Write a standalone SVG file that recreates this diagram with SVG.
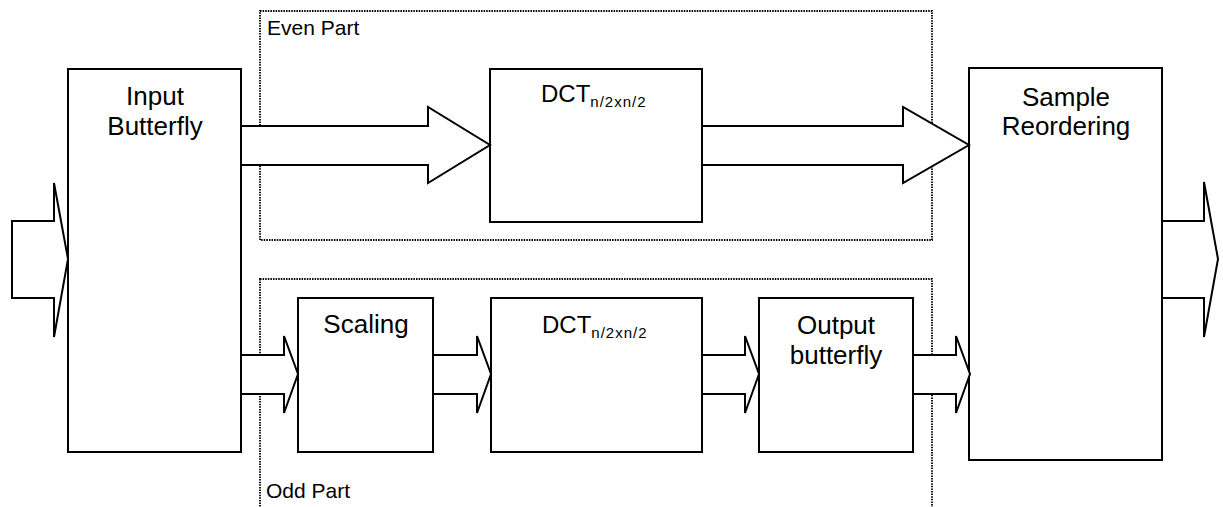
<svg xmlns="http://www.w3.org/2000/svg" width="1223" height="507" viewBox="0 0 1223 507">
  <style>
    .box { fill: #ffffff; stroke: #000000; stroke-width: 2; }
    .group { fill: none; stroke: #000000; stroke-width: 1.8; stroke-dasharray: 1.5 1.1; }
    .arrow { fill: #ffffff; stroke: #000000; stroke-width: 2; stroke-linejoin: miter; }
    .label { font-family: "Liberation Sans", Arial, sans-serif; font-size: 26px; fill: #000000; text-anchor: middle; }
    .part { font-family: "Liberation Sans", Arial, sans-serif; font-size: 21px; fill: #000000; }
    .dct { font-family: "Liberation Sans", Arial, sans-serif; font-size: 24px; fill: #000000; }
    .sub { font-size: 15px; letter-spacing: 1px; }
  </style>

  <rect width="1223" height="507" fill="#ffffff"/>

  <!-- dotted grouping frames -->
  <g id="even-part">
    <rect class="group" x="260" y="11" width="672" height="229"/>
    <text class="part" x="267" y="35">Even Part</text>
  </g>
  <g id="odd-part">
    <rect class="group" x="260" y="279" width="672" height="240"/>
    <text class="part" x="266" y="498">Odd Part</text>
  </g>

  <!-- processing blocks -->
  <g id="input-butterfly">
    <rect class="box" x="68" y="69" width="173" height="383"/>
    <text class="label" x="155" y="105">Input</text>
    <text class="label" x="155" y="135">Butterfly</text>
  </g>
  <g id="dct-even">
    <rect class="box" x="490" y="69" width="212" height="153"/>
    <text class="dct" x="541" y="102">DCT<tspan class="sub" dy="5">n/2xn/2</tspan></text>
  </g>
  <g id="scaling">
    <rect class="box" x="298" y="298" width="135" height="154"/>
    <text class="label" x="366" y="333">Scaling</text>
  </g>
  <g id="dct-odd">
    <rect class="box" x="491" y="298" width="211" height="154"/>
    <text class="dct" x="542" y="333">DCT<tspan class="sub" dy="5">n/2xn/2</tspan></text>
  </g>
  <g id="output-butterfly">
    <rect class="box" x="759" y="298" width="154" height="154"/>
    <text class="label" x="836" y="334">Output</text>
    <text class="label" x="836" y="364">butterfly</text>
  </g>
  <g id="sample-reordering">
    <rect class="box" x="969" y="68" width="193" height="392"/>
    <text class="label" x="1066" y="106">Sample</text>
    <text class="label" x="1066" y="135">Reordering</text>
  </g>

  <!-- block arrows between stages -->
  <g id="connectors">
    <polygon class="arrow" points="12,221 54,221 54,183 68,259 54,337 54,298 12,298"/>
    <polygon class="arrow" points="241,126 428,126 428,107 490,145 428,183 428,165 241,165"/>
    <polygon class="arrow" points="702,126 903,126 903,107 969,145 903,183 903,165 702,165"/>
    <polygon class="arrow" points="241,355 284,355 284,336 298,374 284,413 284,394 241,394"/>
    <polygon class="arrow" points="433,355 477,355 477,336 491,374 477,413 477,394 433,394"/>
    <polygon class="arrow" points="702,355 745,355 745,336 759,374 745,413 745,394 702,394"/>
    <polygon class="arrow" points="913,355 956,355 956,336 970,374 956,413 956,394 913,394"/>
    <polygon class="arrow" points="1162,221 1204,221 1204,182 1218,259 1204,337 1204,298 1162,298"/>
  </g>
</svg>
